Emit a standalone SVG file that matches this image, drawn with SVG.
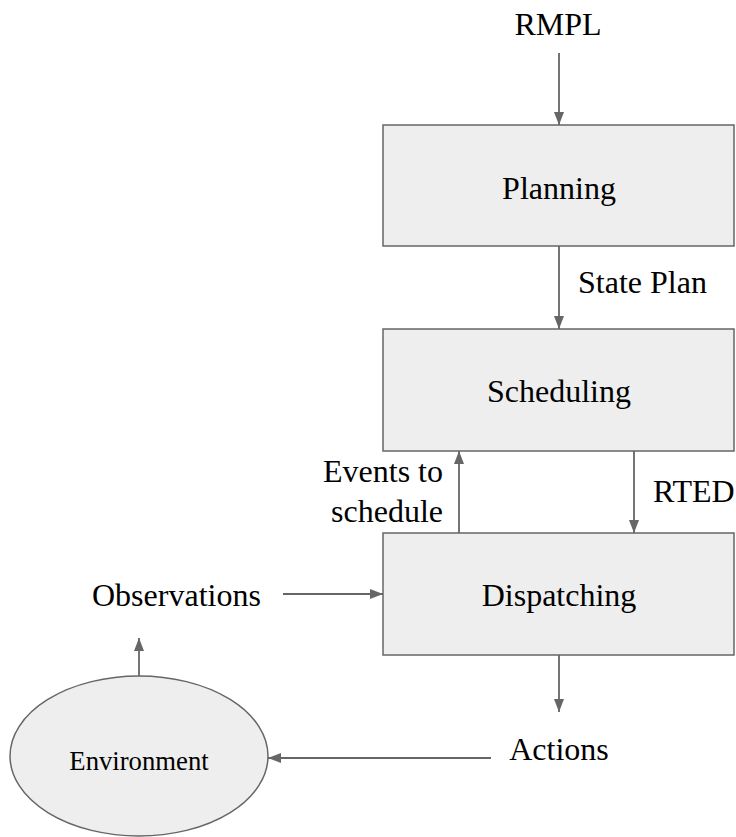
<svg xmlns="http://www.w3.org/2000/svg" width="736" height="837" viewBox="0 0 736 837">
  <style>
    .box { fill: #eeeeee; stroke: #666666; stroke-width: 1.5; }
    .lbl { font-family: "Liberation Serif", "Times New Roman", Times, "DejaVu Serif", serif; font-size: 32px; fill: #000000; }
    .mid { text-anchor: middle; }
    .end { text-anchor: end; }
    .edge { stroke: #666666; stroke-width: 1.8; fill: none; marker-end: url(#arrow); }
  </style>
  <defs>
    <marker id="arrow" markerWidth="13" markerHeight="10" refX="13" refY="5" viewBox="0 0 13 10" markerUnits="userSpaceOnUse" orient="auto">
      <path d="M0,0 L13,5 L0,10 Z" fill="#666666"/>
    </marker>
  </defs>
  <rect width="736" height="837" fill="#ffffff"/>

  <g id="connectors">
    <line class="edge" x1="559" y1="53" x2="559" y2="125"/>
    <line class="edge" x1="559" y1="246" x2="559" y2="329"/>
    <line class="edge" x1="459" y1="533" x2="459" y2="451"/>
    <line class="edge" x1="634" y1="451" x2="634" y2="533"/>
    <line class="edge" x1="283" y1="594" x2="383" y2="594"/>
    <line class="edge" x1="559" y1="655" x2="559" y2="712"/>
    <line class="edge" x1="491" y1="758" x2="268" y2="758"/>
    <line class="edge" x1="139" y1="676" x2="139" y2="638"/>
  </g>

  <g id="labels">
    <text class="lbl mid" x="558" y="35">RMPL</text>
    <text class="lbl" x="578" y="293">State Plan</text>
    <text class="lbl end" x="443" y="482">Events to</text>
    <text class="lbl end" x="443" y="522">schedule</text>
    <text class="lbl" x="653" y="502">RTED</text>
    <text class="lbl" x="92" y="606">Observations</text>
    <text class="lbl mid" x="559" y="760">Actions</text>
  </g>

  <g id="planning">
    <rect class="box" x="383" y="125" width="351" height="121"/>
    <text class="lbl mid" x="559" y="199">Planning</text>
  </g>

  <g id="scheduling">
    <rect class="box" x="383" y="329" width="351" height="122"/>
    <text class="lbl mid" x="559" y="402">Scheduling</text>
  </g>

  <g id="dispatching">
    <rect class="box" x="383" y="533" width="351" height="122"/>
    <text class="lbl mid" x="559" y="606">Dispatching</text>
  </g>

  <g id="environment">
    <ellipse class="box" cx="139" cy="756" rx="129" ry="80"/>
    <text class="lbl mid" x="139" y="770" style="font-size:26.7px">Environment</text>
  </g>
</svg>
